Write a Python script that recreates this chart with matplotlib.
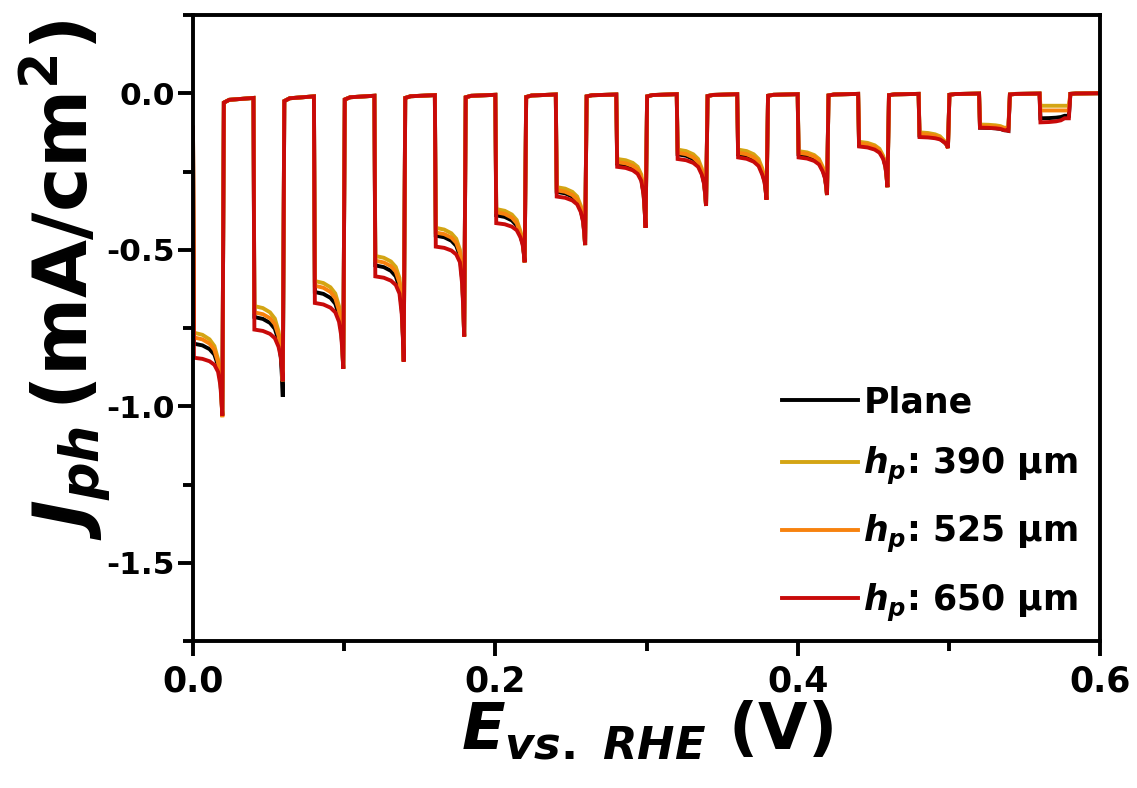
# chopped-light LSV, plane vs pillar heights
import numpy as np
import matplotlib
matplotlib.use('Agg')
import matplotlib.pyplot as plt
from matplotlib.ticker import MultipleLocator

plt.rcParams['font.family'] = ['DejaVu Sans']
plt.rcParams['font.weight'] = 'bold'
plt.rcParams['mathtext.fontset'] = 'custom'
plt.rcParams['mathtext.it'] = 'DejaVu Sans:italic:bold'
plt.rcParams['mathtext.rm'] = 'DejaVu Sans:bold'
plt.rcParams['mathtext.bf'] = 'DejaVu Sans:bold'

# light on / off potentials (V)
chop_on = [0.00, 0.04, 0.08, 0.12, 0.16, 0.20, 0.24, 0.28, 0.32, 0.36, 0.40, 0.44, 0.48, 0.52, 0.56]
chop_off = [0.02, 0.06, 0.10, 0.14, 0.18, 0.22, 0.26, 0.30, 0.34, 0.38, 0.42, 0.46, 0.50, 0.54, 0.58]
x_end = 0.60
j_first = -0.11

# dark current after each light period (mA/cm2)
dark_start = [-0.03, -0.025, -0.02, -0.015, -0.013, -0.012, -0.01, -0.01, -0.009, -0.008, -0.007, -0.006, -0.005, -0.004, -0.002]
dark_end = [-0.015, -0.01, -0.008, -0.006, -0.005, -0.004, -0.004, -0.003, -0.003, -0.003, -0.002, -0.002, -0.001, -0.001, 0.0]

# photocurrent: level at light on, level before the transient, transient peak
top_plane = [-0.80, -0.715, -0.635, -0.55, -0.455, -0.39, -0.315, -0.225, -0.195, -0.195, -0.195, -0.165, -0.135, -0.11, -0.08]
knee_plane = [-0.87, -0.79, -0.71, -0.62, -0.52, -0.455, -0.375, -0.275, -0.255, -0.255, -0.245, -0.205, -0.155, -0.118, -0.072]
spike_plane = [-1.03, -0.97, -0.88, -0.857, -0.777, -0.54, -0.485, -0.43, -0.36, -0.34, -0.325, -0.30, -0.175, -0.12, -0.072]

top_390 = [-0.765, -0.68, -0.60, -0.52, -0.43, -0.37, -0.30, -0.21, -0.18, -0.18, -0.185, -0.155, -0.125, -0.10, -0.04]
knee_390 = [-0.85, -0.76, -0.68, -0.59, -0.50, -0.44, -0.36, -0.26, -0.24, -0.24, -0.235, -0.20, -0.15, -0.11, -0.04]
spike_390 = [-1.03, -0.92, -0.88, -0.857, -0.777, -0.54, -0.485, -0.43, -0.36, -0.34, -0.325, -0.30, -0.175, -0.11, -0.04]

top_525 = [-0.78, -0.70, -0.615, -0.535, -0.445, -0.38, -0.31, -0.22, -0.19, -0.19, -0.19, -0.16, -0.13, -0.105, -0.055]
knee_525 = [-0.86, -0.775, -0.695, -0.605, -0.51, -0.45, -0.37, -0.27, -0.25, -0.25, -0.24, -0.205, -0.155, -0.112, -0.055]
spike_525 = [-1.035, -0.92, -0.88, -0.857, -0.777, -0.54, -0.485, -0.43, -0.36, -0.34, -0.325, -0.30, -0.175, -0.112, -0.055]

top_650 = [-0.845, -0.755, -0.67, -0.585, -0.49, -0.415, -0.33, -0.235, -0.21, -0.205, -0.205, -0.17, -0.14, -0.11, -0.093]
knee_650 = [-0.89, -0.81, -0.73, -0.64, -0.54, -0.46, -0.38, -0.28, -0.26, -0.26, -0.25, -0.21, -0.155, -0.118, -0.08]
spike_650 = [-1.03, -0.92, -0.88, -0.857, -0.777, -0.54, -0.485, -0.43, -0.36, -0.34, -0.325, -0.30, -0.175, -0.12, -0.08]

labels = ['Plane', r'$\mathit{h}_{\mathit{p}}$: 390 μm', r'$\mathit{h}_{\mathit{p}}$: 525 μm', r'$\mathit{h}_{\mathit{p}}$: 650 μm']
colors = ['#000000', '#D4A514', '#F7820E', '#C80A0A']

# shape of the current inside one light period
fx = [0.0, 0.3, 0.55, 0.72, 0.85, 0.93, 0.97, 1.0]


def trace(top, knee, spike):
    xs, ys = [0.0], [j_first]
    for k in range(len(chop_on)):
        a, b = chop_on[k], chop_off[k]
        w = b - a
        t, kn, sp = top[k], knee[k], spike[k]
        seg = [t, t + 0.08 * (kn - t), t + 0.25 * (kn - t), t + 0.5 * (kn - t), kn,
               kn + 0.3 * (sp - kn), kn + 0.65 * (sp - kn), sp]
        if k > 0:
            xs.append(a)
            ys.append(dark_end[k - 1])
        for f, v in zip(fx, seg):
            xs.append(a + 0.0006 + f * (w - 0.0012))
            ys.append(v)
        nxt = chop_on[k + 1] if k + 1 < len(chop_on) else x_end
        xs += [b + 0.0004, b + 0.004, nxt - 0.0006]
        ys += [dark_start[k], dark_start[k] + 0.6 * (dark_end[k] - dark_start[k]), dark_end[k]]
    return xs, ys


fig = plt.figure(figsize=(11.37, 7.88), dpi=100)
ax = fig.add_axes([193 / 1137, 1 - 641 / 788, 907 / 1137, 626 / 788])

series = [(top_plane, knee_plane, spike_plane), (top_390, knee_390, spike_390),
          (top_525, knee_525, spike_525), (top_650, knee_650, spike_650)]
for (tp, kn, sp), c, lab in zip(series, colors, labels):
    xs, ys = trace(tp, kn, sp)
    ax.plot(xs, ys, color=c, lw=2.8, label=lab, solid_joinstyle='miter')

ax.set_xlim(0, 0.6)
ax.set_ylim(-1.75, 0.25)
ax.xaxis.set_major_locator(MultipleLocator(0.2))
ax.xaxis.set_minor_locator(MultipleLocator(0.1))
ax.yaxis.set_major_locator(MultipleLocator(0.5))
ax.yaxis.set_minor_locator(MultipleLocator(0.25))
ax.tick_params(which='both', direction='out', width=2.8, top=False, right=False)
ax.tick_params(which='major', length=11)
ax.tick_params(which='minor', length=7)
ax.tick_params(axis='y', labelsize=22.5, pad=2)
ax.tick_params(axis='x', labelsize=25, pad=6)
ax.yaxis.set_major_formatter(plt.FuncFormatter(lambda v, p: f'{v:.1f}'))
for s in ax.spines.values():
    s.set_linewidth(2.8)

ax.set_xlabel(r'$\mathit{E}_{\mathit{vs.\ RHE}}\ \mathrm{(V)}$', fontsize=46, labelpad=0)
ax.set_ylabel(r'$\mathit{J}_{\mathit{ph}}\,\mathrm{(mA/cm^{2})}$', fontsize=54, labelpad=0)
ax.yaxis.set_label_coords(-0.088, 0.577)

leg = ax.legend(loc='lower right', bbox_to_anchor=(0.995, 0.0), frameon=False, fontsize=25,
                handlelength=2.2, handletextpad=0.15, labelspacing=0.75, borderaxespad=0.1)
for h in leg.get_lines():
    h.set_linewidth(2.8)

fig.savefig('out.png', dpi=100)
